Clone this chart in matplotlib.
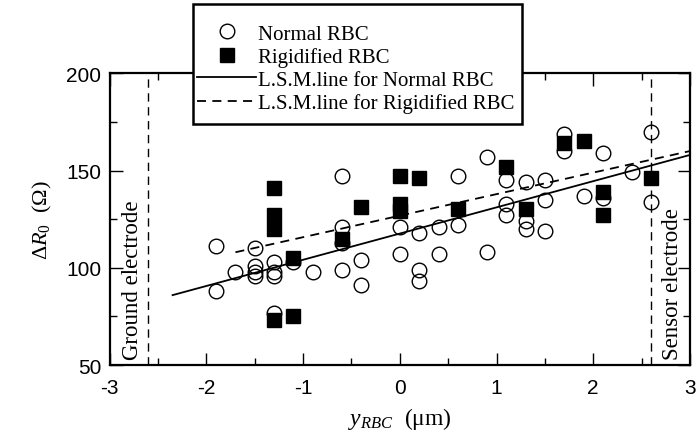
import numpy as np
import matplotlib.pyplot as plt
from matplotlib.patches import Rectangle
from matplotlib.ticker import MultipleLocator

# Normal RBC (open circles)
normal_x = [-1.9, -1.9, -1.7, -1.5, -1.5, -1.5, -1.5, -1.3, -1.3, -1.3, -1.3,
            -1.1, -0.9, -0.6, -0.6, -0.6, -0.6, -0.4, -0.4, 0.0, 0.0, 0.2, 0.2, 0.2,
            0.4, 0.4, 0.6, 0.6, 0.9, 0.9, 1.1, 1.1, 1.1, 1.3, 1.3, 1.3, 1.5, 1.5, 1.5,
            1.7, 1.7, 1.9, 2.1, 2.1, 2.4, 2.6, 2.6]
normal_y = [111, 88, 98, 110, 101, 98, 96, 103, 98, 96, 77,
            103, 98, 147, 121, 113, 99, 104, 91, 121, 107, 118, 99, 93,
            121, 107, 147, 122, 157, 108, 145, 133, 127, 144, 124, 120, 145, 135, 119,
            169, 160, 137, 159, 136, 149, 170, 134]

# Rigidified RBC (filled squares)
rigid_x = [-1.3, -1.3, -1.3, -1.3, -1.1, -1.1, -0.6, -0.4, 0.0, 0.0, 0.0, 0.2,
           0.6, 1.1, 1.3, 1.7, 1.9, 2.1, 2.1, 2.6]
rigid_y = [141, 127, 120, 73, 105, 75, 115, 131, 147, 133, 129, 146,
           130, 152, 130, 164, 165, 139, 127, 146]

# least squares lines: (slope, intercept, x start, x end)
lsm_normal = (13.46, 117.6, -2.35, 3.0)
lsm_rigid = (11.06, 126.8, -1.7, 3.0)

electrodes = [-2.6, 2.6]

plt.rcParams['font.family'] = ['Liberation Sans', 'DejaVu Sans']
plt.rcParams['axes.unicode_minus'] = False
plt.rcParams['mathtext.fontset'] = 'custom'
plt.rcParams['mathtext.rm'] = 'Liberation Serif'
plt.rcParams['mathtext.it'] = 'Liberation Serif:italic'

W, H = 699, 439
fig = plt.figure(figsize=(W / 100, H / 100), dpi=100)
ax = fig.add_axes([0.157, 0.166, 0.83, 0.665])

for xe in electrodes:
    ax.axvline(xe, color='black', lw=1.0, ls=(0, (6, 4)), zorder=1)

sq, = ax.plot(rigid_x, rigid_y, 's', color='black', ms=9.5, zorder=3, label='Rigidified RBC')
ci, = ax.plot(normal_x, normal_y, 'o', mfc='none', mec='black', mew=1.0, ms=10.5, zorder=4,
              label='Normal RBC')

xs = np.array(lsm_normal[2:])
ln1, = ax.plot(xs, lsm_normal[0] * xs + lsm_normal[1], color='black', lw=1.3, zorder=2,
               label='L.S.M.line for Normal RBC')
xs = np.array(lsm_rigid[2:])
ln2, = ax.plot(xs, lsm_rigid[0] * xs + lsm_rigid[1], color='black', lw=1.3, ls=(0, (5, 3.5)),
               zorder=2, label='L.S.M.line for Rigidified RBC')

ax.set_xlim(-3, 3)
ax.set_ylim(50, 200)
ax.xaxis.set_major_locator(MultipleLocator(1))
ax.xaxis.set_minor_locator(MultipleLocator(0.5))
ax.yaxis.set_major_locator(MultipleLocator(50))
ax.yaxis.set_minor_locator(MultipleLocator(25))
ax.tick_params(which='both', direction='in', top=True, right=True, width=1.0, labelsize=15)
ax.tick_params(which='major', length=9)
ax.tick_params(which='minor', length=5)
ax.tick_params(axis='x', pad=9)
ax.tick_params(axis='y', pad=6)
for s in ax.spines.values():
    s.set_linewidth(1.6)

ax.set_xlabel(r'$y_{RBC}$  (μm)', family='Liberation Serif', fontsize=17, labelpad=6)
ax.set_ylabel(r'$\Delta R_0$  ($\Omega$)', family='Liberation Serif', fontsize=16, labelpad=9)

ax.text(-2.76, 53, 'Ground electrode', rotation=90, ha='center', va='bottom',
        family='Liberation Serif', fontsize=16.5)
ax.text(2.82, 53, 'Sensor electrode', rotation=90, ha='center', va='bottom',
        family='Liberation Serif', fontsize=16.5)

# legend box (white, thick border) sits over the top of the axes
box = Rectangle((193 / W, 1 - 125 / H), 329 / W, 120 / H, transform=fig.transFigure,
                facecolor='white', edgecolor='black', lw=1.8, zorder=5)
fig.patches.append(box)

leg = fig.legend(handles=[ci, sq, ln1, ln2], loc='upper left',
                 bbox_to_anchor=(197 / W, 1 - 25 / H), frameon=False,
                 prop={'family': 'Liberation Serif', 'size': 15},
                 handlelength=2.85, handletextpad=0.1, borderpad=0, labelspacing=0.16,
                 borderaxespad=0)
leg.set_zorder(10)

fig.savefig('out.png', dpi=100)
